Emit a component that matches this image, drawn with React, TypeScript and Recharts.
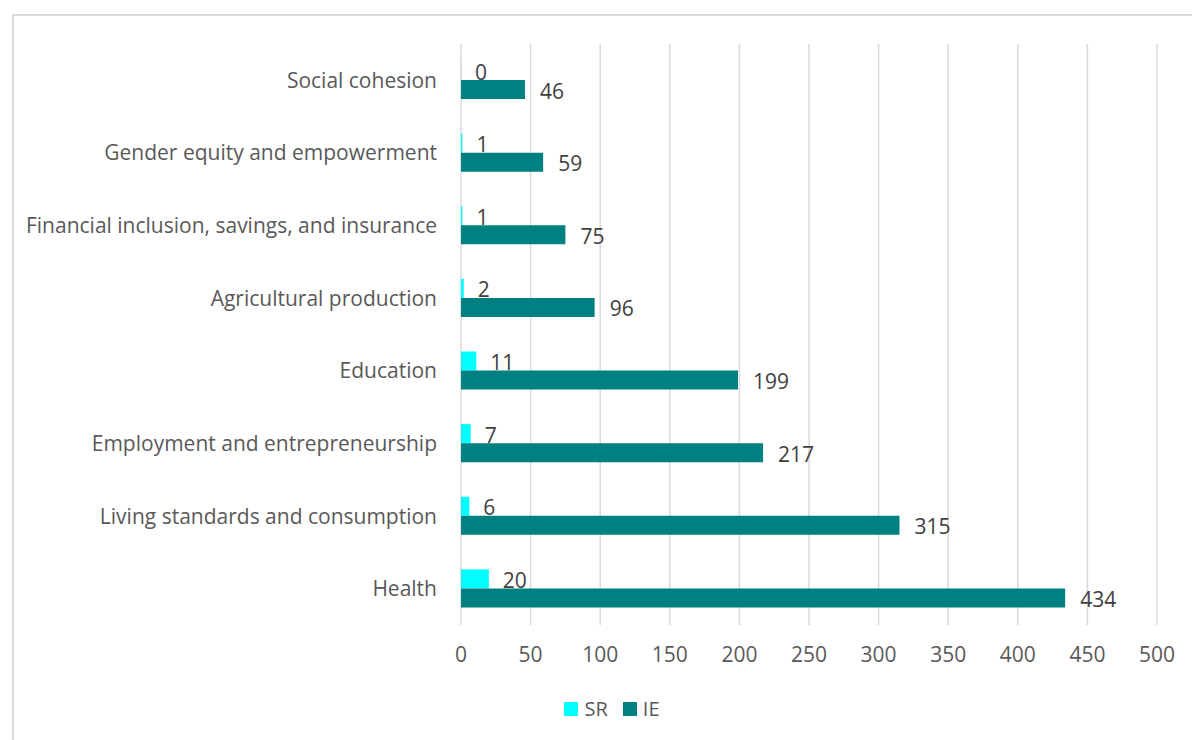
import React from 'react';
import { BarChart, Bar, XAxis, YAxis, CartesianGrid, Legend, LabelList } from 'recharts';

const categories = [
  'Social cohesion',
  'Gender equity and empowerment',
  'Financial inclusion, savings, and insurance',
  'Agricultural production',
  'Education',
  'Employment and entrepreneurship',
  'Living standards and consumption',
  'Health',
];
const srValues = [0, 1, 1, 2, 11, 7, 6, 20];
const ieValues = [46, 59, 75, 96, 199, 217, 315, 434];
const xTicks = [0, 50, 100, 150, 200, 250, 300, 350, 400, 450, 500];

const SR_COLOR = '#00ffff';
const IE_COLOR = '#008080';
const FONT = '"Open Sans", sans-serif';

const data = categories.map((name, i) => ({ name, SR: srValues[i], IE: ieValues[i] }));

const LegendContent = () => (
  <div style={{ display: 'flex', justifyContent: 'center', gap: 15, fontFamily: FONT, fontSize: 20, lineHeight: '26px', color: '#595959' }}>
    {[
      { label: 'SR', color: SR_COLOR },
      { label: 'IE', color: IE_COLOR },
    ].map(item => (
      <div key={item.label} style={{ display: 'flex', alignItems: 'center', gap: 6 }}>
        <span style={{ display: 'inline-block', width: 14, height: 14, background: item.color }} />
        <span>{item.label}</span>
      </div>
    ))}
  </div>
);

// draws the value just right of the bar end, also for zero-length bars
const valueLabel = (offset: number) => (props: any) => {
  const { x, y, width, height, value } = props;
  return (
    <text
      x={Number(x) + Number(width) + offset}
      y={Number(y) + Number(height) / 2 + 1}
      dominantBaseline="central"
      fill="#404040"
      fontSize={21}
      fontFamily={FONT}
    >
      {value}
    </text>
  );
};

const App: React.FC = () => {
  return (
    <div style={{ position: 'absolute', left: 0, top: 0, width: 1192, height: 740, overflow: 'hidden', background: '#fff' }}>
      <div
        style={{
          position: 'absolute',
          left: 12,
          top: 14,
          width: 1240,
          height: 780,
          border: '2px solid #d9d9d9',
        }}
      />
      <div style={{ position: 'absolute', left: 0, top: 0 }}>
        <BarChart
          width={1192}
          height={740}
          data={data}
          layout="vertical"
          margin={{ top: 44, right: 35, left: 0, bottom: 18 }}
          barSize={19}
          barGap={0}
        >
          <CartesianGrid horizontal={false} stroke="#d9d9d9" strokeWidth={1.5} />
          <XAxis
            type="number"
            domain={[0, 500]}
            ticks={xTicks}
            axisLine={false}
            tickLine={false}
            tickMargin={16}
            height={71}
            tick={{ fill: '#595959', fontSize: 21, fontFamily: FONT }}
          />
          <YAxis
            type="category"
            dataKey="name"
            width={461}
            axisLine={false}
            tickLine={false}
            tickMargin={18}
            tick={{ fill: '#595959', fontSize: 21, fontFamily: FONT }}
          />
          <Legend
            verticalAlign="bottom"
            content={<LegendContent />}
            wrapperStyle={{ left: 0, width: 1224 }}
          />
          <Bar dataKey="SR" fill={SR_COLOR} minPointSize={0.05} isAnimationActive={false}>
            <LabelList dataKey="SR" content={valueLabel(14)} />
          </Bar>
          <Bar dataKey="IE" fill={IE_COLOR} isAnimationActive={false}>
            <LabelList dataKey="IE" content={valueLabel(15)} />
          </Bar>
        </BarChart>
      </div>
    </div>
  );
};

export default App;
